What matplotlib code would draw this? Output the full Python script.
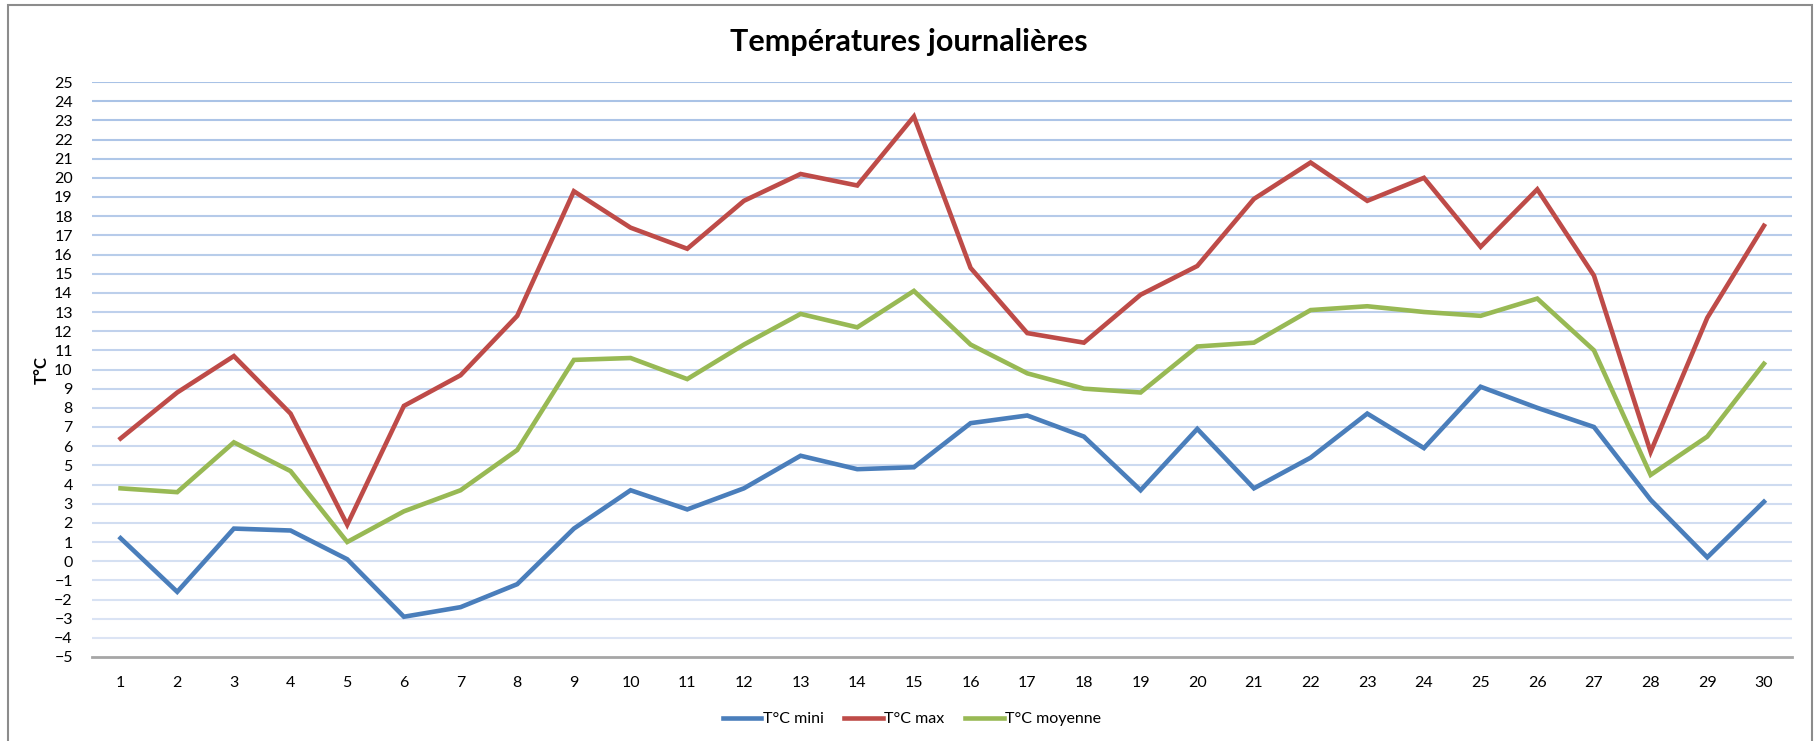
import matplotlib
matplotlib.use("Agg")
import matplotlib.pyplot as plt
import matplotlib.patches as patches
import numpy as np

days = list(range(1, 31))
t_min = [1.2, -1.6, 1.7, 1.6, 0.1, -2.9, -2.4, -1.2, 1.7, 3.7,
         2.7, 3.8, 5.5, 4.8, 4.9, 7.2, 7.6, 6.5, 3.7, 6.9,
         3.8, 5.4, 7.7, 5.9, 9.1, 8.0, 7.0, 3.2, 0.2, 3.1]
t_max = [6.4, 8.8, 10.7, 7.7, 1.9, 8.1, 9.7, 12.8, 19.3, 17.4,
         16.3, 18.8, 20.2, 19.6, 23.2, 15.3, 11.9, 11.4, 13.9, 15.4,
         18.9, 20.8, 18.8, 20.0, 16.4, 19.4, 14.9, 5.7, 12.7, 17.5]
t_moy = [3.8, 3.6, 6.2, 4.7, 1.0, 2.6, 3.7, 5.8, 10.5, 10.6,
         9.5, 11.3, 12.9, 12.2, 14.1, 11.3, 9.8, 9.0, 8.8, 11.2,
         11.4, 13.1, 13.3, 13.0, 12.8, 13.7, 11.0, 4.5, 6.5, 10.3]
series_labels = ["T°C mini", "T°C max", "T°C moyenne"]
y_ticks = list(range(-5, 26))

plt.rcParams['font.family'] = ['Lato', 'DejaVu Sans']

W, H = 1816, 741
fig = plt.figure(figsize=(W / 100, H / 100), dpi=100)
ax_left, ax_right, ax_top, ax_bot = 92.2, 1792.3, 82, 657
ax = fig.add_axes([ax_left / W, 1 - ax_bot / H, (ax_right - ax_left) / W, (ax_bot - ax_top) / H])

colors = ['#4A7EBB', '#BE4B48', '#98B954']
for vals, lab, c in zip([t_min, t_max, t_moy], series_labels, colors):
    ax.plot(days, vals, color=c, lw=3.3, label=lab, solid_joinstyle='miter', zorder=3)

ax.set_xlim(0.5, 30.5)
ax.set_ylim(-5, 25)
ax.set_xticks(days)
ax.set_yticks(y_ticks)
ax.tick_params(axis='both', length=0, labelsize=11.5, colors='#000000')
ax.tick_params(axis='x', pad=14)
ax.tick_params(axis='y', pad=14)

# gridlines with gradient colour
top = np.array([0.66, 0.76, 0.90])
bot = np.array([0.87, 0.90, 0.96])
for t in y_ticks[1:]:
    f = (t + 5) / 30.0
    c = bot * (1 - f) + top * f
    ax.axhline(t, color=c, lw=1.5, zorder=1)

for s in ['top', 'right', 'left']:
    ax.spines[s].set_visible(False)
ax.spines['bottom'].set_color('#A6A6A6')
ax.spines['bottom'].set_linewidth(2)

ax.set_ylabel("T°C", fontsize=12, fontweight='bold')
ax.yaxis.set_label_coords(-(ax_left - 50) / (ax_right - ax_left), 0.5)

fig.text(909 / W, 1 - 42 / H, "Températures journalières", fontsize=22,
         fontweight='bold', ha='center', va='center')

leg = fig.legend(loc='center', bbox_to_anchor=(912 / W, 1 - 719 / H), ncol=3,
                 frameon=False, fontsize=11.5, handlelength=2.4, handletextpad=0.1,
                 columnspacing=1.3)

fig.add_artist(patches.Rectangle((8 / W, -0.01), (1812 - 8) / W, 1 - 5 / H + 0.01,
                                 transform=fig.transFigure, fill=False,
                                 edgecolor='#8C8C8C', lw=1.5))

fig.savefig("out.png", dpi=100)
